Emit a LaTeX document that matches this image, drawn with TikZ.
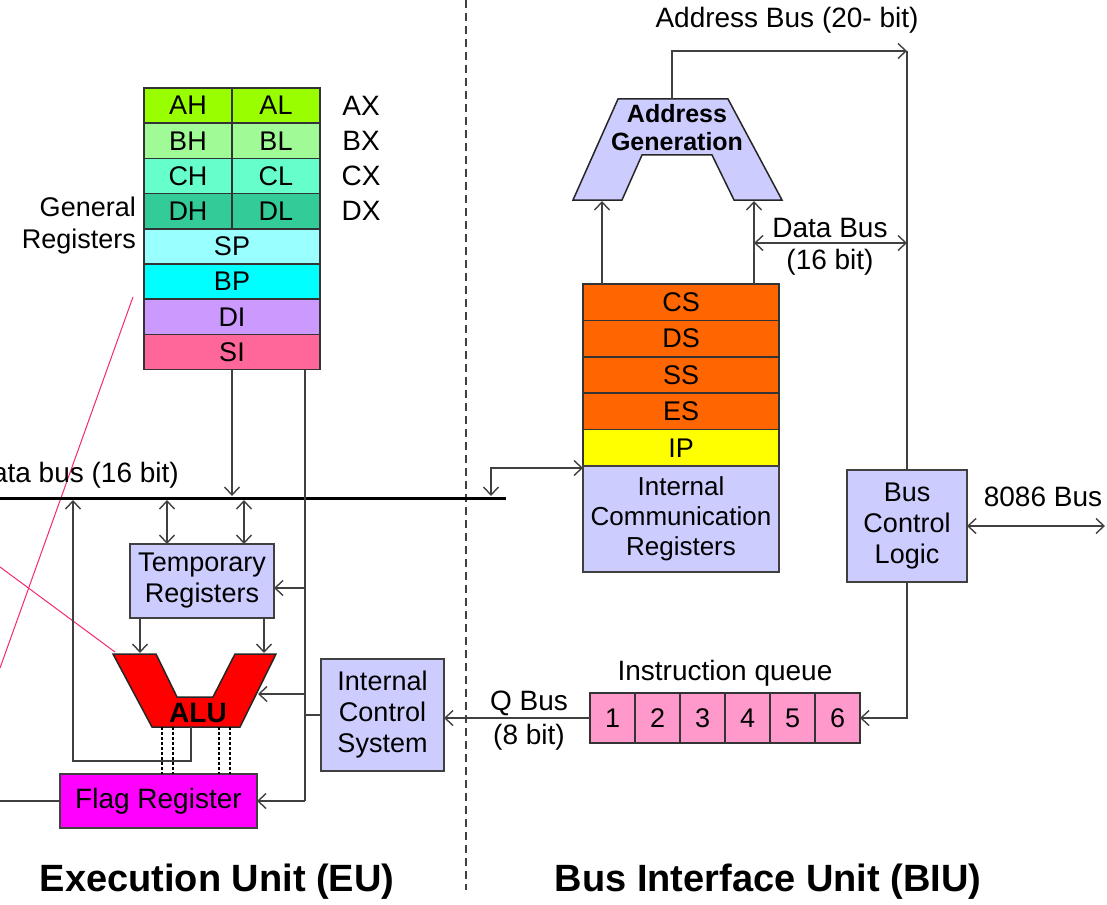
\documentclass[tikz,border=0pt]{standalone}
\usepackage{fontspec}
\setmainfont{Liberation Sans}
\usetikzlibrary{arrows.meta}
\definecolor{cgray}{HTML}{404040}
\definecolor{axc}{HTML}{99FF00}
\definecolor{bxc}{HTML}{A0FA96}
\definecolor{cxc}{HTML}{66FFCC}
\definecolor{dxc}{HTML}{33CC99}
\definecolor{spc}{HTML}{99FFFF}
\definecolor{bpc}{HTML}{00FFFF}
\definecolor{dic}{HTML}{CC99FF}
\definecolor{sic}{HTML}{FF6699}
\definecolor{segc}{HTML}{FF6600}
\definecolor{ipc}{HTML}{FFFF00}
\definecolor{lav}{HTML}{CCCCFF}
\definecolor{qc}{HTML}{FF99CC}
\definecolor{flagc}{HTML}{FF00FF}
\definecolor{pinkc}{HTML}{F5286E}
\newcommand\myrfont{\fontsize{27}{31}\selectfont}
\newcommand\mylfont{\fontsize{28}{33}\selectfont}
\begin{document}
\begin{tikzpicture}[x=1pt,y=-1pt,
  conn/.style={draw=cgray,line width=1.4pt},
  arr/.style={conn,-{Straight Barb[length=8pt,width=15pt]}},
  darr/.style={conn,{Straight Barb[length=8pt,width=15pt]}-{Straight Barb[length=8pt,width=15pt]}},
  reg/.style={draw=black!80,line width=1.5pt,inner sep=0pt,outer sep=0pt,minimum height=35.2pt,font=\myrfont},
  half/.style={reg,minimum width=88pt},
  full/.style={reg,minimum width=176pt},
  seg/.style={reg,minimum width=196pt,minimum height=36.4pt,fill=segc},
  blk/.style={draw=black!75,line width=1.5pt,fill=lav,inner sep=0pt,outer sep=0pt,align=center,font=\myrfont},
  qcell/.style={draw=black!80,line width=1.5pt,fill=qc,inner sep=0pt,outer sep=0pt,minimum width=45pt,minimum height=50pt,font=\myrfont},
  lbl/.style={inner sep=0pt,font=\mylfont,align=center},
  title/.style={inner sep=0pt,font=\bfseries\fontsize{38}{44}\selectfont},
  polyshape/.style={draw=black!85,line width=1.5pt},
]
\useasboundingbox (0,0) rectangle (1107,904);

% divider
\draw[cgray,line width=1.5pt,dash pattern=on 8pt off 5pt] (466,0) -- (466,890);

% general registers
\node[half,fill=axc] (AH) at (188,105.6) {AH};
\node[half,fill=axc] (AL) at (276,105.6) {AL};
\node[half,fill=bxc] (BH) at (188,140.8) {BH};
\node[half,fill=bxc] (BL) at (276,140.8) {BL};
\node[half,fill=cxc] (CH) at (188,176) {CH};
\node[half,fill=cxc] (CL) at (276,176) {CL};
\node[half,fill=dxc] (DH) at (188,211.2) {DH};
\node[half,fill=dxc] (DL) at (276,211.2) {DL};
\node[full,fill=spc] (SP) at (232,246.4) {SP};
\node[full,fill=bpc] (BP) at (232,281.6) {BP};
\node[full,fill=dic] (DI) at (232,316.8) {DI};
\node[full,fill=sic] (SI) at (232,352) {SI};
\node[lbl] (AX) at (361,105.6) {AX};
\node[lbl] (BX) at (361,140.8) {BX};
\node[lbl] (CX) at (361,176) {CX};
\node[lbl] (DX) at (361,211.2) {DX};
\node[lbl,anchor=east,align=right,font=\fontsize{27}{32}\selectfont] (GR) at (136,226) {General\\Registers};

% pink lines
\draw[pinkc,line width=1pt] (133,297) -- (0,668);
\draw[pinkc,line width=1pt] (0,567) -- (115,652);

% EU data bus
\coordinate (busL) at (-5,498);
\coordinate (busR) at (506,498);
\draw[black,line width=3pt] (busL) -- (busR);
\node[lbl,anchor=east] (dbl) at (179,475) {Data bus (16 bit)};
\coordinate (busTop) at (0,496);
\coordinate (busBot) at (0,500);

% temporary registers, ALU, flags
\node[blk,minimum width=144pt,minimum height=74pt] (TR) at (202,581) {Temporary\\Registers};
\draw[darr] ([xshift=-35pt]TR.north) -- ([xshift=-35pt]TR.north |- busBot);
\draw[darr] ([xshift=42pt]TR.north) -- ([xshift=42pt]TR.north |- busBot);
\draw[arr] (SI.south) -- (SI.south |- busTop);

\draw[polyshape,fill=red] (113,654) -- (156,654) -- (177,697) -- (213,697) -- (235,654) -- (276,654) -- (240,727) -- (152,727) -- cycle;
\node[inner sep=0pt,font=\bfseries\fontsize{28}{30}\selectfont] (ALU) at (198,713) {ALU};
\coordinate (aluR) at (258,694);
\coordinate (aluOut) at (191,727);
\draw[arr] ([xshift=-62pt]TR.south) -- ++(0,35);
\draw[arr] ([xshift=62pt]TR.south) -- ++(0,35);

\node[blk,fill=flagc,minimum width=197pt,minimum height=54pt,font=\fontsize{28}{30}\selectfont] (FR) at (158.5,801) {Flag Register};
\foreach \x in {162,173,219,230}
  \draw[black,line width=1.2pt,dash pattern=on 3pt off 2pt] (\x,727) -- (\x,774);
\draw[arr] (aluOut) -- (191,761) -- (73,761) -- (73,500);
\draw[conn] (FR.west) -- (-5,801);

% internal control system and spine
\node[blk,minimum width=123pt,minimum height=112pt] (ICS) at (382.5,715) {Internal\\Control\\System};
\coordinate (spine) at (305,0);
\coordinate (tin) at (305,588);
\coordinate (ain) at (305,694);
\draw[conn] (SI.south -| spine) -- (spine |- FR.east);
\draw[arr] (tin) -- (TR.east |- tin);
\draw[arr] (ain) -- (aluR);
\draw[conn] (spine |- ICS.west) -- (ICS.west);
\draw[arr] (spine |- FR.east) -- (FR.east);

% BIU registers
\node[seg] (CS) at (681,302.2) {CS};
\node[seg] (DS) at (681,338.6) {DS};
\node[seg] (SS) at (681,375) {SS};
\node[seg] (ES) at (681,411.4) {ES};
\node[seg,fill=ipc] (IP) at (681,447.8) {IP};
\node[blk,minimum width=196pt,minimum height=106pt,font=\fontsize{26}{30}\selectfont] (ICR) at (681,519) {Internal\\Communication\\Registers};
\coordinate (icrA) at (583,468);
\coordinate (icrB) at (491,468);
\draw[darr] (icrA) -- (icrB) -- (icrB |- busTop);

% address generation
\draw[polyshape,fill=lav] (618,99) -- (728,99) -- (782,200) -- (734,200) -- (712,155) -- (642,155) -- (622,200) -- (573,200) -- cycle;
\node[inner sep=0pt,align=center,font=\bfseries\fontsize{25}{28}\selectfont] (AG) at (677,128) {Address\\Generation};
\coordinate (agTop) at (672,99);
\coordinate (agL) at (602,201);
\coordinate (agR) at (754,201);
\draw[arr] (CS.north -| agL) -- (agL);
\draw[arr] (CS.north -| agR) -- (agR);

% bus control logic
\node[blk,minimum width=120pt,minimum height=112pt] (BCL) at (907,526) {Bus\\Control\\Logic};
\coordinate (abus) at (907,51);
\draw[arr] (agTop) -- (agTop |- abus) -- (abus);
\draw[conn] (abus) -- (BCL.north);
\node[lbl] (abl) at (787,20) {Address Bus (20- bit)};
\coordinate (dbA) at (754,243);
\draw[darr] (dbA) -- (dbA -| BCL.north);
\node[lbl] (dbl1) at (830,228) {Data Bus};
\node[lbl] (dbl2) at (830,262) {(16 bit)};
\coordinate (ext) at (1105,526);
\draw[darr] (BCL.east) -- (ext);
\node[lbl] (ebl) at (1043,497) {8086 Bus};

% instruction queue
\foreach \i in {1,...,6}
  \node[qcell] (q\i) at ({567.5+45*\i},718) {\i};
\node[lbl] (iql) at (725,673) {Instruction queue};
\draw[arr] (BCL.south) |- (q6.east);
\draw[arr] (q1.west) -- (q1.west -| ICS.east);
\node[lbl] (qb1) at (529,703) {Q Bus};
\node[lbl] (qb2) at (529,737) {(8 bit)};

% titles
\node[title] (EU) at (217,882) {Execution Unit (EU)};
\node[title] (BIU) at (768,882) {Bus Interface Unit (BIU)};
\end{tikzpicture}
\end{document}
